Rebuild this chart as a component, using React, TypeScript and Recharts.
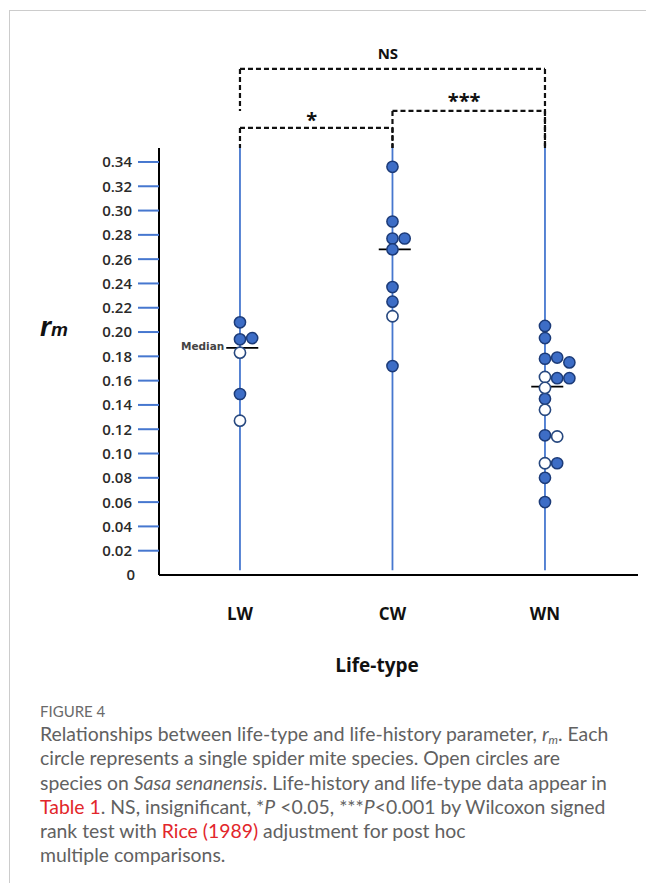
import React from 'react';
import { ScatterChart, Scatter, XAxis, YAxis, ReferenceLine, ReferenceDot } from 'recharts';

const categories = ['LW', 'CW', 'WN'];
const yTicks = [0, 0.02, 0.04, 0.06, 0.08, 0.1, 0.12, 0.14, 0.16, 0.18, 0.2, 0.22, 0.24, 0.26, 0.28, 0.3, 0.32, 0.34];

// rm values per life-type; slot = horizontal stacking position of overlapping circles; open = species on Sasa senanensis
const lwValues = [0.208, 0.194, 0.195, 0.183, 0.149, 0.127];
const lwSlots = [0, 0, 1, 0, 0, 0];
const lwOpen = [0, 0, 0, 1, 0, 1];

const cwValues = [0.336, 0.291, 0.277, 0.277, 0.268, 0.237, 0.225, 0.213, 0.172];
const cwSlots = [0, 0, 0, 1, 0, 0, 0, 0, 0];
const cwOpen = [0, 0, 0, 0, 0, 0, 0, 1, 0];

const wnValues = [0.205, 0.195, 0.178, 0.179, 0.175, 0.163, 0.162, 0.162, 0.154, 0.145, 0.136, 0.115, 0.114, 0.092, 0.092, 0.08, 0.06];
const wnSlots = [0, 0, 0, 1, 2, 0, 1, 2, 0, 0, 0, 0, 1, 0, 1, 0, 0];
const wnOpen = [0, 0, 0, 0, 0, 1, 0, 0, 1, 0, 1, 0, 1, 1, 0, 0, 0];

const medians = [0.187, 0.268, 0.155];

// significance brackets: [from, to], level (in rm units), label
const bracketPairs = [[0, 1], [1, 2], [0, 2]];
const bracketLevels = [0.368, 0.382, 0.4166];
const bracketLabels = ['*', '***', 'NS'];
const bracketLegEnds = [[0.3515, 0.3515], [0.3515, 0.3515], [0.382, 0.3515]];

const Y_TOP = 0.3515;
const SLOT = 0.08;
const BLUE = '#4677cf';

const allGroups = [
  { values: lwValues, slots: lwSlots, open: lwOpen },
  { values: cwValues, slots: cwSlots, open: cwOpen },
  { values: wnValues, slots: wnSlots, open: wnOpen },
];

const filledData: { x: number; y: number }[] = [];
const openData: { x: number; y: number }[] = [];
allGroups.forEach((g, ci) => {
  g.values.forEach((v, i) => {
    const pt = { x: ci + 1 + g.slots[i] * SLOT, y: v };
    if (g.open[i]) openData.push(pt);
    else filledData.push(pt);
  });
});

const FilledDot = (p: any) => (
  <circle cx={p.cx} cy={p.cy} r={5.6} fill="#3d6dc6" stroke="#1c3b78" strokeWidth={1.5} />
);
const OpenDot = (p: any) => (
  <circle cx={p.cx} cy={p.cy} r={5.6} fill="#ffffff" stroke="#27487f" strokeWidth={1.6} />
);

const YTick = (p: any) => {
  const v = p.payload.value;
  return (
    <g>
      {v !== 0 && <line x1={p.x - 21} x2={p.x} y1={p.y} y2={p.y} stroke={BLUE} strokeWidth={2} />}
      <text x={p.x - (v === 0 ? 24 : 27)} y={p.y} dy="0.36em" textAnchor="end" fontFamily="Open Sans" fontWeight={600} fontSize={15} fill="#2a2a2a">
        {v === 0 ? '0' : v.toFixed(2)}
      </text>
    </g>
  );
};

const XTick = (p: any) => (
  <text x={p.x} y={p.y + 39} dy="0.36em" textAnchor="middle" fontFamily="Open Sans" fontWeight={700} fontSize={17} fill="#111">
    {categories[p.payload.value - 1]}
  </text>
);

const XLabel = (p: any) => {
  const vb = p.viewBox;
  return (
    <text x={vb.x + vb.width * 0.455} y={vb.y + 90} dy="0.36em" textAnchor="middle" fontFamily="Open Sans" fontWeight={700} fontSize={19} fill="#111">
      Life-type
    </text>
  );
};

const YLabel = (p: any) => {
  const vb = p.viewBox;
  return (
    <text x={vb.x + 40} y={vb.y + vb.height * 0.44} fontFamily="Liberation Sans" fontWeight={700} fontStyle="italic" fill="#111">
      <tspan fontSize={28}>r</tspan>
      <tspan fontSize={19}>m</tspan>
    </text>
  );
};

const labelLift = [1, 3, 10];
const labelSize = [20, 20, 15];

const captionStyle: React.CSSProperties = {
  position: 'absolute',
  left: 40,
  fontFamily: 'Lato',
  fontSize: 19.4,
  color: '#616161',
  whiteSpace: 'nowrap',
  lineHeight: '24px',
};
const red: React.CSSProperties = { color: '#e2262b' };

export default function App() {
  return (
    <div style={{ position: 'absolute', left: 0, top: 0, width: 646, height: 883, background: '#fff' }}>
      <div style={{ position: 'absolute', left: 9, top: 10, width: 637, height: 1, background: '#cccccc' }} />
      <div style={{ position: 'absolute', left: 9, top: 10, width: 1, height: 873, background: '#cccccc' }} />
      <div style={{ position: 'absolute', left: 0, top: 0 }}>
        <ScatterChart width={646} height={700} margin={{ top: 148, right: 8, left: 0, bottom: 25 }}>
          <XAxis
            type="number"
            dataKey="x"
            domain={[0.469, 3.61]}
            ticks={[1, 2, 3]}
            allowDataOverflow
            height={100}
            tickSize={0}
            tickMargin={0}
            tick={<XTick />}
            axisLine={{ stroke: '#000', strokeWidth: 2 }}
            tickLine={false}
            label={<XLabel />}
          />
          <YAxis
            type="number"
            dataKey="y"
            domain={[0, Y_TOP]}
            ticks={yTicks}
            interval={0}
            allowDataOverflow
            width={159}
            tickSize={0}
            tickMargin={0}
            tick={<YTick />}
            tickLine={false}
            axisLine={{ stroke: '#000', strokeWidth: 2 }}
            label={<YLabel />}
          />
          {categories.map((c, i) => (
            <ReferenceLine
              key={'v' + c}
              segment={[{ x: i + 1, y: 0.004 }, { x: i + 1, y: Y_TOP }]}
              stroke={BLUE}
              strokeWidth={1.8}
              ifOverflow="visible"
            />
          ))}
          {bracketPairs.map((pr, i) => {
            const a = pr[0] + 1;
            const b = pr[1] + 1;
            const lv = bracketLevels[i];
            const common = { stroke: '#111', strokeWidth: 2.2, strokeDasharray: '5 3', ifOverflow: 'visible' as const };
            return [
              <ReferenceLine key={'bh' + i} segment={[{ x: a, y: lv }, { x: b, y: lv }]} {...common} />,
              <ReferenceLine key={'bl' + i} segment={[{ x: a, y: lv }, { x: a, y: bracketLegEnds[i][0] }]} {...common} />,
              <ReferenceLine key={'br' + i} segment={[{ x: b, y: lv }, { x: b, y: bracketLegEnds[i][1] }]} {...common} />,
              <ReferenceDot
                key={'bt' + i}
                x={(a + b) / 2 - 0.03}
                y={lv}
                r={0}
                ifOverflow="visible"
                shape={(p: any) => (
                  <text x={p.cx} y={p.cy - labelLift[i]} textAnchor="middle" fontFamily="Open Sans" fontWeight={700} fontSize={labelSize[i]} fill="#111">
                    {bracketLabels[i]}
                  </text>
                )}
              />,
            ];
          })}
          {medians.map((m, i) => (
            <ReferenceLine
              key={'m' + i}
              segment={[{ x: i + 1 - 0.09, y: m }, { x: i + 1 + 0.12, y: m }]}
              stroke="#000"
              strokeWidth={1.8}
              ifOverflow="visible"
            />
          ))}
          <ReferenceDot
            x={1 - 0.09}
            y={medians[0]}
            r={0}
            ifOverflow="visible"
            shape={(p: any) => (
              <text x={p.cx - 2} y={p.cy - 2} dy="0.36em" textAnchor="end" fontFamily="DejaVu Sans" fontWeight={700} fontSize={10.5} fill="#444">
                Median
              </text>
            )}
          />
          <Scatter data={filledData} shape={<FilledDot />} isAnimationActive={false} />
          <Scatter data={openData} shape={<OpenDot />} isAnimationActive={false} />
        </ScatterChart>
      </div>
      <div style={{ ...captionStyle, top: 700, fontSize: 15, lineHeight: '22px', color: '#6a6a6a' }}>FIGURE 4</div>
      <div style={{ ...captionStyle, top: 722 }}>
        Relationships between life-type and life-history parameter, <i>r</i>
        <i style={{ fontSize: 12, position: 'relative', top: 3, lineHeight: 0 }}>m</i>. Each
      </div>
      <div style={{ ...captionStyle, top: 746 }}>circle represents a single spider mite species. Open circles are</div>
      <div style={{ ...captionStyle, top: 771 }}>
        species on <i>Sasa senanensis</i>. Life-history and life-type data appear in
      </div>
      <div style={{ ...captionStyle, top: 795 }}>
        <span style={red}>Table 1</span>. NS, insignificant, *<i>P</i> &lt;0.05, ***<i>P</i>&lt;0.001 by Wilcoxon signed
      </div>
      <div style={{ ...captionStyle, top: 819 }}>
        rank test with <span style={red}>Rice (1989)</span> adjustment for post hoc
      </div>
      <div style={{ ...captionStyle, top: 843 }}>multiple comparisons.</div>
    </div>
  );
}
